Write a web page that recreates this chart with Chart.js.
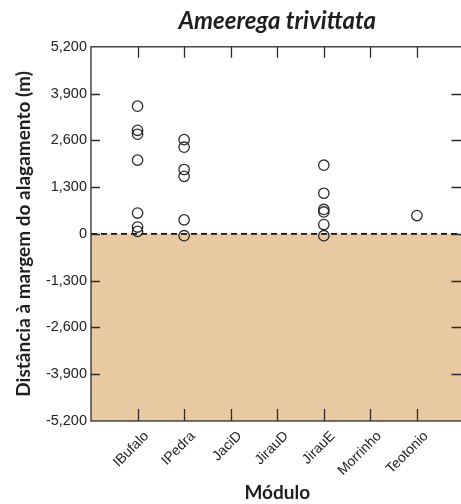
<!DOCTYPE html>
<html>
<head>
<meta charset="utf-8">
<script src="https://cdn.jsdelivr.net/npm/chart.js@4"></script>
<style>
  html, body { margin: 0; padding: 0; background: #fff; overflow: hidden; }
  #wrap { width: 470px; height: 504px; }
</style>
</head>
<body>
<div id="wrap"><canvas id="c" width="470" height="504"></canvas></div>
<script>
// Modules along the x axis
const categories = ['IBufalo', 'IPedra', 'JaciD', 'JirauD', 'JirauE', 'Morrinho', 'Teotonio'];

// Distance to the flood margin (m) for each record, per module
const distIBufalo  = [3550, 2880, 2770, 2050, 580, 190, 70];
const distIPedra   = [2620, 2410, 1790, 1600, 390, -50];
const distJaciD    = [];
const distJirauD   = [];
const distJirauE   = [1910, 1130, 680, 610, 260, -50];
const distMorrinho = [];
const distTeotonio = [510];

const seriesByModule = [distIBufalo, distIPedra, distJaciD, distJirauD, distJirauE, distMorrinho, distTeotonio];

// Y axis tick values
const yTickValues = [-5200, -3900, -2600, -1300, 0, 1300, 2600, 3900, 5200];

const points = [];
seriesByModule.forEach((vals, i) => vals.forEach(v => points.push({ x: i + 1, y: v })));

const INK = '#2b2b2b';

// Tan band below the zero line, then the frame and inward tick marks
const decor = {
  id: 'decor',
  beforeDatasetsDraw(chart) {
    const { ctx, chartArea: a, scales: { y } } = chart;
    const y0 = y.getPixelForValue(0);
    const yb = y.getPixelForValue(-5200);
    ctx.save();
    ctx.fillStyle = '#e9c9a2';
    ctx.fillRect(a.left, y0, a.right - a.left, yb - y0);
    ctx.restore();
  },
  afterDraw(chart) {
    const { ctx, chartArea: a, scales: { x, y } } = chart;
    ctx.save();
    ctx.strokeStyle = INK;
    ctx.lineWidth = 1.3;
    ctx.strokeRect(a.left, a.top, a.right - a.left, a.bottom - a.top);
    ctx.beginPath();
    x.ticks.forEach(t => {
      const px = Math.round(x.getPixelForValue(t.value)) + 0.5;
      ctx.moveTo(px, a.top); ctx.lineTo(px, a.top + 11);
      ctx.moveTo(px, a.bottom); ctx.lineTo(px, a.bottom - 12);
    });
    y.ticks.forEach(t => {
      if (t.value === 5200 || t.value === -5200) return;
      const py = Math.round(y.getPixelForValue(t.value)) + 0.5;
      ctx.moveTo(a.left, py); ctx.lineTo(a.left + 9, py);
      ctx.moveTo(a.right, py); ctx.lineTo(a.right - 12, py);
    });
    ctx.stroke();
    ctx.restore();
  }
};

new Chart(document.getElementById('c'), {
  type: 'scatter',
  data: {
    datasets: [
      {
        type: 'line',
        data: [{ x: 0, y: 0 }, { x: 8, y: 0 }],
        borderColor: '#111',
        borderWidth: 1.6,
        borderDash: [6, 4],
        pointRadius: 0,
        order: 2
      },
      {
        data: points,
        pointStyle: 'circle',
        pointRadius: 5.2,
        pointBorderWidth: 1.3,
        borderColor: '#2a2a2a',
        backgroundColor: 'rgba(0,0,0,0)',
        order: 1
      }
    ]
  },
  options: {
    responsive: false,
    animation: false,
    layout: { padding: { left: 0, right: 1, top: 0, bottom: 0 } },
    plugins: {
      legend: { display: false },
      tooltip: { enabled: false },
      title: {
        display: true,
        fullSize: false,
        text: 'Ameerega trivittata',
        color: '#1e1e1e',
        font: { family: 'Lato', size: 24, weight: 'bold', style: 'italic' },
        padding: { top: 7, bottom: 11 }
      }
    },
    scales: {
      x: {
        type: 'linear',
        min: 0,
        max: 8,
        afterBuildTicks: s => { s.ticks = categories.map((c, i) => ({ value: i + 1 })); },
        afterFit: s => { s.height = 83; },
        grid: { display: false, drawTicks: false },
        border: { display: false },
        ticks: {
          callback: v => categories[v - 1],
          autoSkip: false,
          minRotation: 45,
          maxRotation: 45,
          padding: 7,
          labelOffset: 9,
          color: '#222',
          font: { family: 'Liberation Sans', size: 14 }
        },
        title: {
          display: true,
          text: 'Módulo',
          color: '#1e1e1e',
          font: { family: 'Lato', size: 19, weight: 'bold' },
          padding: { top: 0, bottom: 0 }
        }
      },
      y: {
        min: -5200,
        max: 5200,
        afterBuildTicks: s => { s.ticks = yTickValues.map(v => ({ value: v })); },
        afterFit: s => { s.width = 91; },
        grid: { display: false, drawTicks: false },
        border: { display: false },
        ticks: {
          callback: v => v.toLocaleString('en-US'),
          padding: 4,
          color: '#222',
          font: { family: 'Liberation Sans', size: 14.5 }
        },
        title: {
          display: true,
          text: 'Distância à margem do alagamento (m)',
          color: '#1e1e1e',
          font: { family: 'Lato', size: 19, weight: 'bold' },
          padding: { top: 12, bottom: 0 }
        }
      }
    }
  },
  plugins: [decor]
});
</script>
</body>
</html>
